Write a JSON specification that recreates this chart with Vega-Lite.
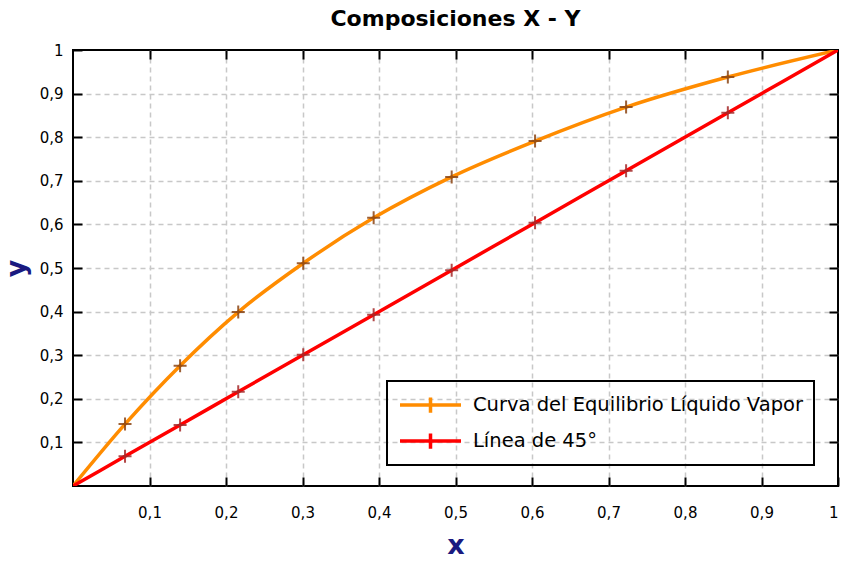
{
  "$schema": "https://vega.github.io/schema/vega-lite/v6.json",
  "width": 765,
  "height": 436,
  "autosize": "none",
  "padding": {"left": 73, "top": 50, "right": 10, "bottom": 76},
  "background": "white",
  "title": {"text": "Composiciones X - Y", "font": "DejaVu Sans", "fontSize": 22, "fontWeight": "bold", "color": "black", "offset": 12, "anchor": "middle"},
  "data": {"values": [
    {"serie": "Curva del Equilibrio Líquido Vapor", "x": 0, "y": 0, "m": false},
    {"serie": "Curva del Equilibrio Líquido Vapor", "x": 0.068, "y": 0.142, "m": true},
    {"serie": "Curva del Equilibrio Líquido Vapor", "x": 0.140, "y": 0.276, "m": true},
    {"serie": "Curva del Equilibrio Líquido Vapor", "x": 0.216, "y": 0.399, "m": true},
    {"serie": "Curva del Equilibrio Líquido Vapor", "x": 0.301, "y": 0.511, "m": true},
    {"serie": "Curva del Equilibrio Líquido Vapor", "x": 0.393, "y": 0.615, "m": true},
    {"serie": "Curva del Equilibrio Líquido Vapor", "x": 0.495, "y": 0.709, "m": true},
    {"serie": "Curva del Equilibrio Líquido Vapor", "x": 0.604, "y": 0.791, "m": true},
    {"serie": "Curva del Equilibrio Líquido Vapor", "x": 0.723, "y": 0.869, "m": true},
    {"serie": "Curva del Equilibrio Líquido Vapor", "x": 0.856, "y": 0.938, "m": true},
    {"serie": "Curva del Equilibrio Líquido Vapor", "x": 1, "y": 1, "m": false},
    {"serie": "Línea de 45°", "x": 0, "y": 0, "m": false},
    {"serie": "Línea de 45°", "x": 0.068, "y": 0.068, "m": true},
    {"serie": "Línea de 45°", "x": 0.140, "y": 0.140, "m": true},
    {"serie": "Línea de 45°", "x": 0.216, "y": 0.216, "m": true},
    {"serie": "Línea de 45°", "x": 0.301, "y": 0.301, "m": true},
    {"serie": "Línea de 45°", "x": 0.393, "y": 0.393, "m": true},
    {"serie": "Línea de 45°", "x": 0.495, "y": 0.495, "m": true},
    {"serie": "Línea de 45°", "x": 0.604, "y": 0.604, "m": true},
    {"serie": "Línea de 45°", "x": 0.723, "y": 0.723, "m": true},
    {"serie": "Línea de 45°", "x": 0.856, "y": 0.856, "m": true},
    {"serie": "Línea de 45°", "x": 1, "y": 1, "m": false}
  ]},
  "layer": [
    {
      "mark": {"type": "line", "strokeWidth": 3.5, "interpolate": "monotone", "clip": true},
      "encoding": {
        "x": {"field": "x", "type": "quantitative", "scale": {"domain": [0, 1], "nice": false, "zero": false},
          "axis": {"orient": "bottom", "values": [0.1,0.2,0.3,0.4,0.5,0.6,0.7,0.8,0.9,1], "labelExpr": "replace(format(datum.value, '~g'), '.', ',')", "title": "x", "grid": false}},
        "y": {"field": "y", "type": "quantitative", "scale": {"domain": [0, 1], "nice": false, "zero": false},
          "axis": {"orient": "left", "values": [0.1,0.2,0.3,0.4,0.5,0.6,0.7,0.8,0.9,1], "labelExpr": "replace(format(datum.value, '~g'), '.', ',')", "title": "y", "grid": false}},
        "color": {"field": "serie", "type": "nominal",
          "scale": {"domain": ["Curva del Equilibrio Líquido Vapor", "Línea de 45°"], "range": ["#ff8c00", "#ff0000"]},
          "legend": {"title": null, "orient": "none", "legendX": 314, "legendY": 331,
            "symbolType": "M-1,0H1M0,-0.25V0.25", "symbolSize": 3721, "symbolStrokeWidth": 3.5,
            "labelFont": "DejaVu Sans", "labelFontSize": 19.5, "labelColor": "black", "labelOffset": 10, "labelLimit": 500,
            "clipHeight": 26, "padding": 11, "rowPadding": 10, "strokeColor": "black"}}
      }
    },
    {
      "transform": [{"filter": "datum.m"}],
      "mark": {"type": "point", "shape": "M-1,0H1M0,-1V1", "size": 169, "filled": false, "strokeWidth": 2, "opacity": 0.85},
      "encoding": {
        "x": {"field": "x", "type": "quantitative", "axis": {"orient": "top", "values": [0.1,0.2,0.3,0.4,0.5,0.6,0.7,0.8,0.9], "labels": false, "grid": true, "title": null}},
        "y": {"field": "y", "type": "quantitative", "axis": {"orient": "right", "values": [0.1,0.2,0.3,0.4,0.5,0.6,0.7,0.8,0.9], "labels": false, "grid": true, "title": null}},
        "stroke": {"field": "serie", "type": "nominal", "scale": {"domain": ["Curva del Equilibrio Líquido Vapor", "Línea de 45°"], "range": ["#8b4513", "#a52a2a"]}, "legend": null}
      }
    }
  ],
  "config": {
    "view": {"stroke": "black", "strokeWidth": 2},
    "axis": {
      "domain": false, "zindex": 1,
      "tickColor": "black", "tickWidth": 2, "tickSize": -9,
      "labelFont": "DejaVu Sans", "labelFontSize": 15, "labelColor": "black",
      "gridColor": "#c8c8c8", "gridDash": [5, 4], "gridWidth": 1.5,
      "titleFont": "DejaVu Sans", "titleFontSize": 27, "titleFontWeight": "bold", "titleColor": "#1a1a80"
    },
    "axisX": {"labelPadding": 28, "titlePadding": 12},
    "axisY": {"labelPadding": 19, "titlePadding": 9},
    "legend": {"strokeWidth": 2}
  }
}
